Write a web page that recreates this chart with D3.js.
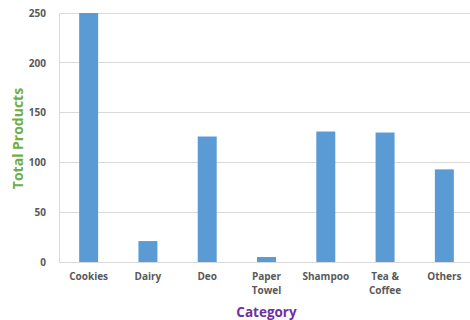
<!DOCTYPE html>
<html>
<head>
<meta charset="utf-8">
<script src="https://cdn.jsdelivr.net/npm/d3@7"></script>
<style>
  html, body { margin: 0; padding: 0; background: #fff; overflow: hidden; }
  svg { display: block; }
  text { font-family: "Open Sans", "Lato", sans-serif; }
</style>
</head>
<body>
<svg id="chart" width="470" height="320"></svg>
<script>
// Product counts per category
const categories = [["Cookies"], ["Dairy"], ["Deo"], ["Paper", "Towel"], ["Shampoo"], ["Tea &", "Coffee"], ["Others"]];
const totals = [250, 21, 126, 5, 131, 130, 93];
const yTicks = [0, 50, 100, 150, 200, 250];

const svg = d3.select("#chart");
const margin = { top: 13, left: 59 };
const width = 415;   // plot runs slightly past the right edge of the view
const height = 249;

const keys = categories.map(c => c.join(" "));
const x = d3.scaleBand().domain(keys).range([0, width]).paddingInner(0.68).paddingOuter(0.34);
const y = d3.scaleLinear().domain([0, 250]).range([height, 0]);

const g = svg.append("g").attr("transform", `translate(${margin.left},${margin.top})`);

// Horizontal gridlines
g.append("g")
  .selectAll("line")
  .data(yTicks)
  .join("line")
  .attr("x1", 0).attr("x2", width)
  .attr("y1", d => y(d)).attr("y2", d => y(d))
  .attr("stroke", "#d9d9d9").attr("stroke-width", 1)
  .attr("shape-rendering", "crispEdges");

// Y axis labels
const yAxis = g.append("g").call(d3.axisLeft(y).tickValues(yTicks).tickSize(0).tickPadding(13));
yAxis.select(".domain").remove();
yAxis.selectAll("text")
  .attr("fill", "#595959").attr("font-size", 10).attr("font-weight", "bold");

// Left axis line
g.append("line").attr("x1", 0).attr("x2", 0).attr("y1", 0).attr("y2", height)
  .attr("stroke", "#d9d9d9").attr("shape-rendering", "crispEdges");

// Bars
g.append("g")
  .selectAll("rect")
  .data(totals)
  .join("rect")
  .attr("x", (d, i) => x(keys[i]))
  .attr("width", x.bandwidth())
  .attr("y", d => y(d))
  .attr("height", d => height - y(d))
  .attr("fill", "#5b9bd5");

// Category labels (may wrap onto two lines)
const xl = g.append("g");
categories.forEach((lines, i) => {
  const cx = x(keys[i]) + x.bandwidth() / 2;
  const t = xl.append("text")
    .attr("x", cx)
    .attr("y", height + 18)
    .attr("text-anchor", "middle")
    .attr("fill", "#595959").attr("font-size", 10).attr("font-weight", "bold");
  lines.forEach((ln, j) => {
    t.append("tspan").attr("x", cx).attr("dy", j === 0 ? 0 : 14).text(ln);
  });
});

// Axis titles
svg.append("text")
  .attr("x", margin.left + width / 2).attr("y", 317)
  .attr("text-anchor", "middle")
  .attr("fill", "#7030a0").attr("font-size", 13.5).attr("font-weight", "bold")
  .text("Category");

svg.append("text")
  .attr("transform", `translate(23,${margin.top + height / 2 + 1}) rotate(-90)`)
  .attr("text-anchor", "middle")
  .attr("fill", "#70ad47").attr("font-size", 14).attr("font-weight", "bold")
  .text("Total Products");
</script>
</body>
</html>
